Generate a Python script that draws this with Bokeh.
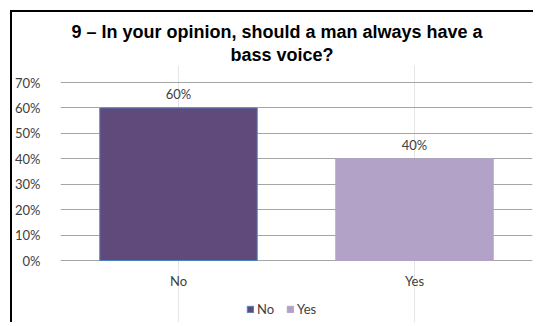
from bokeh.plotting import figure
from bokeh.models import (ColumnDataSource, LabelSet, Legend, LegendItem, Title,
                          FactorRange, Range1d, FixedTicker, NumeralTickFormatter)
from bokeh.core.properties import value
from bokeh.embed import file_html
from bokeh.resources import INLINE

# Survey answers and their shares
categories = ["No", "Yes"]
shares = [0.60, 0.40]
bar_colors = ["#604A7B", "#B3A2C7"]
edge_colors = ["#4F81BD", "#B3A2C7"]
y_ticks = [0.0, 0.1, 0.2, 0.3, 0.4, 0.5, 0.6, 0.7]
title_lines = ["9 \u2013 In your opinion, should a man always have a", "bass voice?"]

LABEL_FONT = "Lato"
TEXT_COLOR = "#404040"

# Plot geometry (pixels): value area height, a little headroom above the
# top gridline and the strip below zero for category names and legend
AREA_PX = 178
HEAD_PX = 17
STRIP_PX = 64
Y_MAX = 0.7
y_min = -Y_MAX * STRIP_PX / AREA_PX
y_max = Y_MAX + Y_MAX * HEAD_PX / AREA_PX

source = ColumnDataSource(dict(
    cat=categories,
    share=shares,
    base=[0.0] * len(categories),
    label=[f"{v:.0%}" for v in shares],
    fill=bar_colors,
    edge=edge_colors,
))

p = figure(
    x_range=FactorRange(*categories, range_padding=0),
    y_range=Range1d(y_min, y_max),
    width=523, height=312,
    output_backend="svg",
    toolbar_location=None,
    x_axis_location=None,
    min_border_left=46, min_border_right=3,
    min_border_top=53, min_border_bottom=0,
    title=title_lines[0],
)
p.styles = {
    "margin-left": "10px", "margin-top": "10px",
    "border-left": "2px solid black", "border-top": "2px solid black",
}

# Two-line title; the second line sits next to the plot area
def style_title(t, offset, standoff):
    t.align = "left"
    t.offset = offset
    t.standoff = standoff
    t.text_font = "Liberation Sans"
    t.text_font_style = "bold"
    t.text_font_size = "18px"
    t.text_color = "#000000"

style_title(p.title, 11, 0)
second_line = Title(text=title_lines[1])
style_title(second_line, 170, 2)
p.add_layout(second_line, "above")

# Bars
bars = p.vbar(x="cat", top="share", bottom="base", width=0.667, source=source,
              fill_color="fill", line_color="edge", line_width=1)

# Value labels above the bars
labels = LabelSet(x="cat", y="share", text="label", source=source,
                  text_align="center", text_baseline="bottom", y_offset=6,
                  text_font=value(LABEL_FONT), text_font_size="13px", text_color=TEXT_COLOR)
p.add_layout(labels)

# Category names under the baseline
cat_labels = LabelSet(x="cat", y="base", text="cat", source=source,
                      text_align="center", text_baseline="middle", y_offset=-20,
                      text_font=value(LABEL_FONT), text_font_size="13px", text_color=TEXT_COLOR)
p.add_layout(cat_labels)

# Axes and grid
p.outline_line_color = None
p.ygrid.grid_line_color = "#A6A6A6"
p.ygrid.grid_line_width = 1
p.yaxis.ticker = FixedTicker(ticks=y_ticks)
p.yaxis.formatter = NumeralTickFormatter(format="0%")
p.yaxis.axis_line_color = None
p.yaxis.major_tick_line_color = None
p.yaxis.minor_tick_line_color = None
p.yaxis.major_label_standoff = 14
p.yaxis.major_label_text_font = LABEL_FONT
p.yaxis.major_label_text_font_size = "13px"
p.yaxis.major_label_text_color = TEXT_COLOR

# Legend at the bottom
legend = Legend(
    items=[LegendItem(label=c, renderers=[bars], index=i) for i, c in enumerate(categories)],
    orientation="horizontal", location=(186, 7),
    label_text_font=LABEL_FONT, label_text_font_size="13px", label_text_color=TEXT_COLOR,
    glyph_width=8, glyph_height=8, label_standoff=3, spacing=9,
    padding=0, margin=0, border_line_color=None, background_fill_alpha=0,
    label_height=14,
)
p.add_layout(legend, "center")

open("out.html", "w").write(file_html(p, INLINE))
